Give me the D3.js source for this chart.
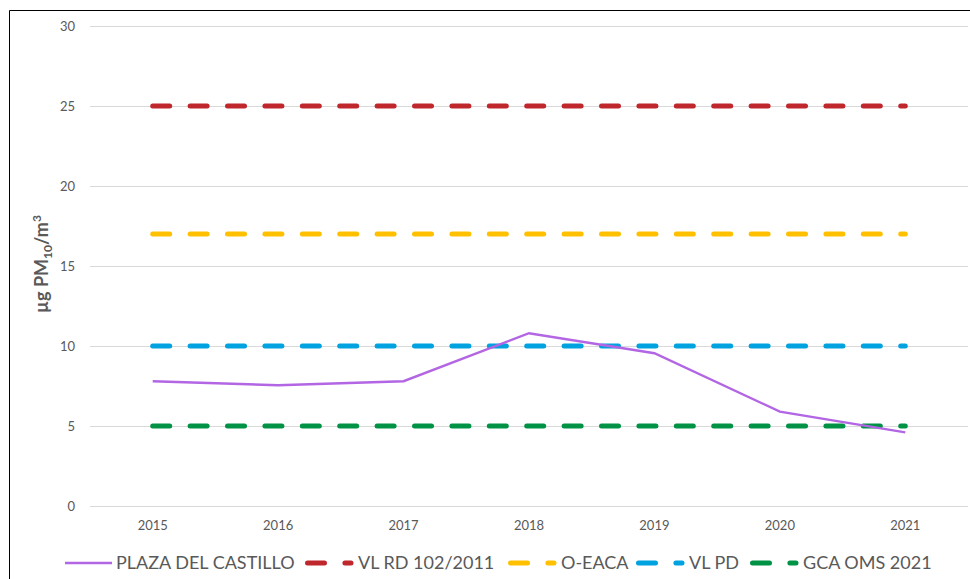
<!DOCTYPE html>
<html>
<head>
<meta charset="utf-8">
<script src="https://cdn.jsdelivr.net/npm/d3@7"></script>
<style>
  body { margin: 0; background: #fff; }
  svg { display: block; font-family: Lato, "Open Sans", sans-serif; }
</style>
</head>
<body>
<svg width="970" height="579"></svg>
<script>
// data
const years = ["2015", "2016", "2017", "2018", "2019", "2020", "2021"];
const plazaValues = [7.8, 7.55, 7.8, 10.8, 9.55, 5.9, 4.6];
const limitNames = ["VL RD 102/2011", "O-EACA", "VL PD", "GCA OMS 2021"];
const limitValues = [25, 17, 10, 5];
const limitColors = ["#c0272d", "#ffc000", "#00a2e0", "#009245"];
const yTicks = [0, 5, 10, 15, 20, 25, 30];

function run() {
  let svg = d3.select("svg");
  let margin = { left: 90, right: 2, top: 26, bottom: 73 };
  let width = +svg.attr("width");
  let height = +svg.attr("height");
  let dash = "17,20.4";

  // frame (right and bottom edges are cut off in the picture)
  svg.append("path")
    .attr("d", "M9.5,579 L9.5,10.5 L970,10.5")
    .attr("fill", "none")
    .attr("stroke", "#000")
    .attr("stroke-width", 1);

  let x = d3.scaleBand().domain(years).range([margin.left, width - margin.right]);
  let y = d3.scaleLinear().domain([0, 30]).range([height - margin.bottom, margin.top]);
  let cx = d => x(d) + x.bandwidth() / 2;

  // grid lines
  svg.append("g").selectAll("line").data(yTicks).join("line")
    .attr("x1", margin.left).attr("x2", width - margin.right)
    .attr("y1", d => Math.round(y(d)) + 0.5).attr("y2", d => Math.round(y(d)) + 0.5)
    .attr("stroke", "#d9d9d9").attr("stroke-width", 1);

  // y tick labels
  svg.append("g").selectAll("text").data(yTicks).join("text")
    .attr("x", 75).attr("y", d => y(d)).attr("dy", "0.35em")
    .attr("text-anchor", "end")
    .attr("font-size", 13).attr("fill", "#595959")
    .text(d => d);

  // x tick labels
  svg.append("g").selectAll("text").data(years).join("text")
    .attr("x", d => cx(d)).attr("y", 530)
    .attr("text-anchor", "middle")
    .attr("font-size", 13).attr("fill", "#595959")
    .text(d => d);

  // y axis title
  let title = svg.append("text")
    .attr("transform", "translate(48,264) rotate(-90)")
    .attr("text-anchor", "middle")
    .attr("font-size", 18).attr("font-weight", "bold").attr("fill", "#595959");
  title.append("tspan").text("µg PM");
  title.append("tspan").attr("font-size", 12).attr("dy", 4).text("10");
  title.append("tspan").attr("dy", -4).text("/m");
  title.append("tspan").attr("font-size", 12).attr("dy", -7).text("3");

  // limit lines (dashed)
  let line = d3.line().x(d => cx(d.year)).y(d => y(d.value));
  limitValues.forEach((v, i) => {
    svg.append("path")
      .datum(years.map(yr => ({ year: yr, value: v })))
      .attr("d", line)
      .attr("fill", "none")
      .attr("stroke", limitColors[i])
      .attr("stroke-width", 5)
      .attr("stroke-linecap", "round")
      .attr("stroke-dasharray", dash);
  });

  // measured series
  svg.append("path")
    .datum(years.map((yr, i) => ({ year: yr, value: plazaValues[i] })))
    .attr("d", line)
    .attr("fill", "none")
    .attr("stroke", "#b366e3")
    .attr("stroke-width", 2.4);

  // legend
  let legend = svg.append("g").attr("transform", "translate(0,563)");
  legend.append("line")
    .attr("x1", 65).attr("x2", 112).attr("y1", 0).attr("y2", 0)
    .attr("stroke", "#b366e3").attr("stroke-width", 2.4);
  legend.append("text")
    .attr("x", 116).attr("dy", "0.35em")
    .attr("font-size", 18).attr("fill", "#595959")
    .text("PLAZA DEL CASTILLO");

  let legendX = [305, 508, 636, 750];
  limitNames.forEach((name, i) => {
    let g = legend.append("g").attr("transform", `translate(${legendX[i]},0)`);
    g.append("line")
      .attr("x1", 2.5).attr("x2", 46).attr("y1", 0).attr("y2", 0)
      .attr("stroke", limitColors[i])
      .attr("stroke-width", 5)
      .attr("stroke-linecap", "round")
      .attr("stroke-dasharray", dash);
    g.append("text")
      .attr("x", 53).attr("dy", "0.35em")
      .attr("font-size", 18).attr("fill", "#595959")
      .text(name);
  });
}

run();
</script>
</body>
</html>
